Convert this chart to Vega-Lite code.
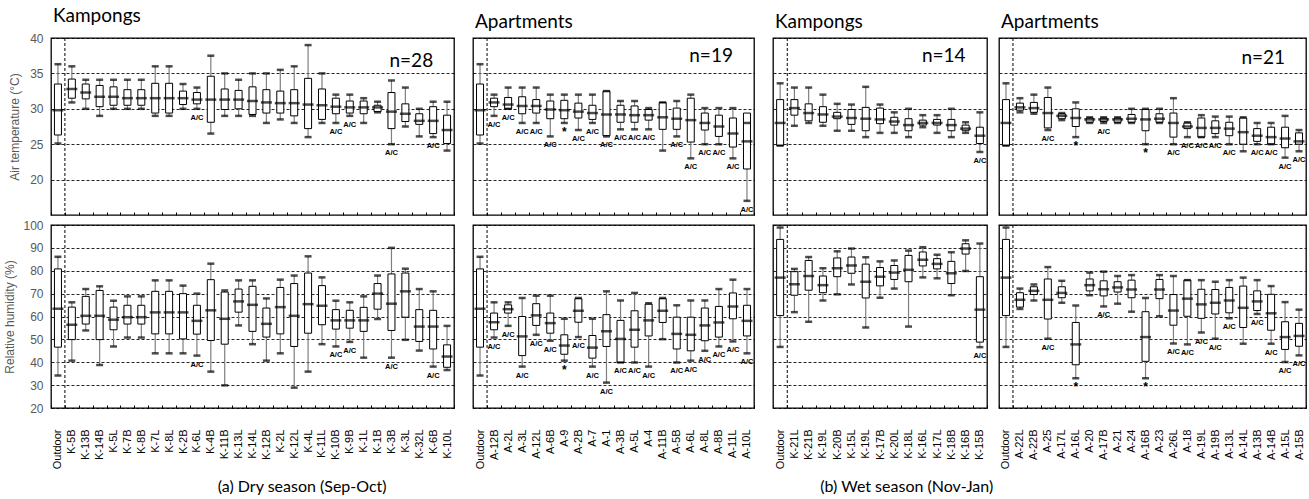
{
  "$schema": "https://vega.github.io/schema/vega-lite/v6.json",
  "padding": {"left": 3, "top": 6, "right": 0, "bottom": 0},
  "config": {
    "font": "Liberation Sans",
    "view": {"stroke": "black", "strokeWidth": 1.3},
    "axis": {
      "gridColor": "black", "gridDash": [3, 2], "gridWidth": 1, "gridOpacity": 0.85,
      "labelFont": "Liberation Sans", "titleFont": "Liberation Sans",
      "labelColor": "#595959", "titleColor": "#595959", "titleFontWeight": "normal",
      "labelFontSize": 12, "titleFontSize": 12
    },
    "title": {"font": "Lato", "fontWeight": "normal", "color": "black"},
    "text": {"font": "Liberation Sans"}
  },
  "datasets": {
    "dryK": [
      {"site": "Outdoor", "tlo": 25.1, "tq1": 26.3, "tmed": 29.8, "tq3": 33.5, "thi": 36.3, "tn": "", "hlo": 34.2, "hq1": 46.6, "hmed": 63.4, "hq3": 80.8, "hhi": 86.1, "hn": ""},
      {"site": "K-5B", "tlo": 30.9, "tq1": 31.5, "tmed": 32.8, "tq3": 34.2, "thi": 36.0, "tn": "", "hlo": 40.7, "hq1": 49.9, "hmed": 56.4, "hq3": 64.1, "hhi": 66.2, "hn": ""},
      {"site": "K-13B", "tlo": 30.0, "tq1": 31.4, "tmed": 32.3, "tq3": 33.5, "thi": 34.1, "tn": "", "hlo": 53.9, "hq1": 56.7, "hmed": 60.3, "hq3": 68.8, "hhi": 72.0, "hn": ""},
      {"site": "K-14B", "tlo": 29.0, "tq1": 30.3, "tmed": 31.7, "tq3": 33.3, "thi": 34.1, "tn": "", "hlo": 38.8, "hq1": 49.9, "hmed": 60.3, "hq3": 71.4, "hhi": 73.2, "hn": ""},
      {"site": "K-5L", "tlo": 30.0, "tq1": 30.5, "tmed": 31.7, "tq3": 33.1, "thi": 34.1, "tn": "", "hlo": 46.9, "hq1": 54.2, "hmed": 58.6, "hq3": 64.1, "hhi": 66.9, "hn": ""},
      {"site": "K-7B", "tlo": 30.0, "tq1": 30.5, "tmed": 31.5, "tq3": 32.7, "thi": 34.1, "tn": "", "hlo": 50.8, "hq1": 56.7, "hmed": 59.7, "hq3": 64.9, "hhi": 68.8, "hn": ""},
      {"site": "K-8B", "tlo": 30.0, "tq1": 30.5, "tmed": 31.5, "tq3": 32.7, "thi": 34.1, "tn": "", "hlo": 50.8, "hq1": 56.7, "hmed": 59.7, "hq3": 64.9, "hhi": 68.8, "hn": ""},
      {"site": "K-7L", "tlo": 29.0, "tq1": 29.4, "tmed": 31.5, "tq3": 33.6, "thi": 36.0, "tn": "", "hlo": 43.9, "hq1": 52.4, "hmed": 61.8, "hq3": 71.0, "hhi": 75.8, "hn": ""},
      {"site": "K-8L", "tlo": 29.0, "tq1": 29.4, "tmed": 31.5, "tq3": 33.6, "thi": 36.0, "tn": "", "hlo": 43.9, "hq1": 52.4, "hmed": 61.8, "hq3": 71.0, "hhi": 75.8, "hn": ""},
      {"site": "K-2B", "tlo": 30.0, "tq1": 30.6, "tmed": 31.5, "tq3": 32.5, "thi": 33.5, "tn": "", "hlo": 43.9, "hq1": 50.2, "hmed": 61.8, "hq3": 70.0, "hhi": 73.5, "hn": ""},
      {"site": "K-6L", "tlo": 30.0, "tq1": 30.7, "tmed": 31.3, "tq3": 32.3, "thi": 33.0, "tn": "A/C", "hlo": 42.9, "hq1": 52.3, "hmed": 58.1, "hq3": 64.9, "hhi": 70.0, "hn": "A/C"},
      {"site": "K-4B", "tlo": 26.5, "tq1": 28.1, "tmed": 31.3, "tq3": 34.6, "thi": 37.5, "tn": "", "hlo": 35.9, "hq1": 49.5, "hmed": 62.7, "hq3": 76.1, "hhi": 83.1, "hn": ""},
      {"site": "K-11B", "tlo": 29.0, "tq1": 29.9, "tmed": 31.3, "tq3": 32.8, "thi": 35.0, "tn": "", "hlo": 29.9, "hq1": 47.9, "hmed": 59.0, "hq3": 70.7, "hhi": 71.4, "hn": ""},
      {"site": "K-13L", "tlo": 29.0, "tq1": 30.0, "tmed": 31.3, "tq3": 32.6, "thi": 34.1, "tn": "", "hlo": 56.1, "hq1": 61.9, "hmed": 66.6, "hq3": 72.0, "hhi": 75.8, "hn": ""},
      {"site": "K-14L", "tlo": 29.0, "tq1": 29.2, "tmed": 31.1, "tq3": 33.1, "thi": 35.0, "tn": "", "hlo": 47.9, "hq1": 53.5, "hmed": 65.1, "hq3": 73.2, "hhi": 75.8, "hn": ""},
      {"site": "K-12B", "tlo": 28.0, "tq1": 29.4, "tmed": 30.9, "tq3": 32.7, "thi": 35.0, "tn": "", "hlo": 40.7, "hq1": 51.0, "hmed": 56.8, "hq3": 63.7, "hhi": 67.9, "hn": ""},
      {"site": "K-2L", "tlo": 28.5, "tq1": 29.4, "tmed": 30.8, "tq3": 32.5, "thi": 35.5, "tn": "", "hlo": 43.9, "hq1": 52.4, "hmed": 64.1, "hq3": 72.7, "hhi": 76.1, "hn": ""},
      {"site": "K-12L", "tlo": 28.0, "tq1": 29.0, "tmed": 30.8, "tq3": 32.7, "thi": 36.0, "tn": "", "hlo": 28.9, "hq1": 46.9, "hmed": 60.3, "hq3": 74.4, "hhi": 77.9, "hn": ""},
      {"site": "K-4L", "tlo": 26.0, "tq1": 27.2, "tmed": 30.6, "tq3": 34.3, "thi": 39.0, "tn": "", "hlo": 35.9, "hq1": 52.7, "hmed": 65.4, "hq3": 79.0, "hhi": 86.3, "hn": ""},
      {"site": "K-11L", "tlo": 28.0, "tq1": 28.5, "tmed": 30.5, "tq3": 32.8, "thi": 35.0, "tn": "", "hlo": 47.9, "hq1": 56.4, "hmed": 64.7, "hq3": 73.5, "hhi": 77.1, "hn": ""},
      {"site": "K-10B", "tlo": 28.0, "tq1": 29.3, "tmed": 30.3, "tq3": 31.5, "thi": 32.0, "tn": "A/C", "hlo": 46.9, "hq1": 54.5, "hmed": 58.3, "hq3": 63.0, "hhi": 66.9, "hn": "A/C"},
      {"site": "K-9B", "tlo": 29.0, "tq1": 29.4, "tmed": 30.2, "tq3": 31.1, "thi": 32.0, "tn": "A/C", "hlo": 48.9, "hq1": 54.9, "hmed": 58.3, "hq3": 62.7, "hhi": 66.2, "hn": "A/C"},
      {"site": "K-1L", "tlo": 28.0, "tq1": 29.3, "tmed": 30.2, "tq3": 31.1, "thi": 31.5, "tn": "", "hlo": 42.0, "hq1": 53.5, "hmed": 58.3, "hq3": 64.0, "hhi": 68.8, "hn": ""},
      {"site": "K-1B", "tlo": 29.5, "tq1": 29.6, "tmed": 30.2, "tq3": 30.5, "thi": 31.0, "tn": "", "hlo": 58.9, "hq1": 63.2, "hmed": 70.0, "hq3": 74.4, "hhi": 77.9, "hn": ""},
      {"site": "K-3B", "tlo": 25.0, "tq1": 27.2, "tmed": 29.6, "tq3": 32.3, "thi": 34.0, "tn": "A/C", "hlo": 42.0, "hq1": 53.9, "hmed": 65.6, "hq3": 78.6, "hhi": 90.0, "hn": "A/C"},
      {"site": "K-3L", "tlo": 27.5, "tq1": 28.2, "tmed": 29.3, "tq3": 30.7, "thi": 33.0, "tn": "", "hlo": 49.8, "hq1": 59.7, "hmed": 71.0, "hq3": 79.0, "hhi": 80.9, "hn": ""},
      {"site": "K-32L", "tlo": 26.1, "tq1": 27.8, "tmed": 28.3, "tq3": 29.3, "thi": 30.0, "tn": "", "hlo": 45.1, "hq1": 49.1, "hmed": 55.6, "hq3": 63.0, "hhi": 72.0, "hn": ""},
      {"site": "K-6B", "tlo": 26.0, "tq1": 26.5, "tmed": 28.3, "tq3": 30.3, "thi": 31.0, "tn": "A/C", "hlo": 38.1, "hq1": 45.8, "hmed": 55.6, "hq3": 62.7, "hhi": 71.0, "hn": "A/C"},
      {"site": "K-10L", "tlo": 24.1, "tq1": 25.1, "tmed": 27.0, "tq3": 29.1, "thi": 31.0, "tn": "", "hlo": 36.6, "hq1": 37.8, "hmed": 42.5, "hq3": 47.6, "hhi": 55.9, "hn": ""}
    ],
    "dryA": [
      {"site": "Outdoor", "tlo": 25.1, "tq1": 26.3, "tmed": 29.8, "tq3": 33.5, "thi": 36.3, "tn": "", "hlo": 34.2, "hq1": 46.6, "hmed": 63.4, "hq3": 80.8, "hhi": 86.1, "hn": ""},
      {"site": "A-12B", "tlo": 29.0, "tq1": 30.3, "tmed": 30.9, "tq3": 31.5, "thi": 32.0, "tn": "A/C", "hlo": 50.8, "hq1": 54.2, "hmed": 57.5, "hq3": 61.5, "hhi": 66.2, "hn": "A/C"},
      {"site": "A-2L", "tlo": 30.0, "tq1": 30.0, "tmed": 30.6, "tq3": 31.6, "thi": 33.0, "tn": "A/C", "hlo": 55.9, "hq1": 61.5, "hmed": 63.2, "hq3": 65.1, "hhi": 66.2, "hn": "A/C"},
      {"site": "A-3L", "tlo": 28.0, "tq1": 29.3, "tmed": 30.4, "tq3": 31.7, "thi": 33.0, "tn": "A/C", "hlo": 38.1, "hq1": 42.9, "hmed": 51.3, "hq3": 60.0, "hhi": 68.1, "hn": "A/C"},
      {"site": "A-12L", "tlo": 28.0, "tq1": 29.4, "tmed": 30.4, "tq3": 31.3, "thi": 33.0, "tn": "A/C", "hlo": 52.0, "hq1": 56.1, "hmed": 60.5, "hq3": 65.6, "hhi": 69.1, "hn": "A/C"},
      {"site": "A-6B", "tlo": 26.1, "tq1": 28.6, "tmed": 29.9, "tq3": 31.1, "thi": 32.0, "tn": "A/C", "hlo": 49.4, "hq1": 52.7, "hmed": 57.1, "hq3": 61.5, "hhi": 69.1, "hn": "A/C"},
      {"site": "A-9", "tlo": 28.0, "tq1": 28.6, "tmed": 29.8, "tq3": 31.2, "thi": 32.0, "tn": "*", "hlo": 40.7, "hq1": 43.5, "hmed": 47.3, "hq3": 52.0, "hhi": 59.0, "hn": "*"},
      {"site": "A-2B", "tlo": 27.0, "tq1": 28.7, "tmed": 29.6, "tq3": 30.8, "thi": 32.0, "tn": "A/C", "hlo": 51.0, "hq1": 57.5, "hmed": 62.5, "hq3": 67.8, "hhi": 68.1, "hn": "A/C"},
      {"site": "A-7", "tlo": 28.0, "tq1": 28.5, "tmed": 29.4, "tq3": 30.5, "thi": 32.0, "tn": "A/C", "hlo": 38.1, "hq1": 41.8, "hmed": 46.4, "hq3": 51.7, "hhi": 59.0, "hn": "A/C"},
      {"site": "A-1", "tlo": 26.1, "tq1": 26.2, "tmed": 29.2, "tq3": 32.5, "thi": 32.5, "tn": "A/C", "hlo": 31.1, "hq1": 46.9, "hmed": 53.5, "hq3": 60.8, "hhi": 71.0, "hn": "A/C"},
      {"site": "A-3B", "tlo": 27.1, "tq1": 28.1, "tmed": 29.2, "tq3": 30.5, "thi": 31.1, "tn": "A/C", "hlo": 39.9, "hq1": 39.9, "hmed": 50.2, "hq3": 58.3, "hhi": 67.0, "hn": "A/C"},
      {"site": "A-5L", "tlo": 27.1, "tq1": 28.1, "tmed": 29.1, "tq3": 30.4, "thi": 31.1, "tn": "A/C", "hlo": 39.9, "hq1": 46.6, "hmed": 54.2, "hq3": 62.5, "hhi": 70.3, "hn": "A/C"},
      {"site": "A-4", "tlo": 27.1, "tq1": 28.4, "tmed": 29.1, "tq3": 29.9, "thi": 30.1, "tn": "A/C", "hlo": 38.1, "hq1": 51.5, "hmed": 58.3, "hq3": 65.4, "hhi": 65.8, "hn": "A/C"},
      {"site": "A-11B", "tlo": 24.1, "tq1": 27.1, "tmed": 28.8, "tq3": 30.9, "thi": 30.9, "tn": "", "hlo": 50.1, "hq1": 57.4, "hmed": 62.5, "hq3": 67.8, "hhi": 68.1, "hn": ""},
      {"site": "A-5B", "tlo": 26.1, "tq1": 27.1, "tmed": 28.6, "tq3": 30.1, "thi": 31.1, "tn": "A/C", "hlo": 39.9, "hq1": 45.8, "hmed": 52.4, "hq3": 59.7, "hhi": 64.9, "hn": "A/C"},
      {"site": "A-6L", "tlo": 23.0, "tq1": 25.3, "tmed": 28.4, "tq3": 31.5, "thi": 32.0, "tn": "A/C", "hlo": 40.7, "hq1": 45.0, "hmed": 52.0, "hq3": 59.7, "hhi": 67.0, "hn": "A/C"},
      {"site": "A-8L", "tlo": 25.0, "tq1": 27.0, "tmed": 28.0, "tq3": 29.4, "thi": 30.1, "tn": "A/C", "hlo": 45.0, "hq1": 49.4, "hmed": 56.1, "hq3": 63.7, "hhi": 67.0, "hn": "A/C"},
      {"site": "A-8B", "tlo": 25.0, "tq1": 26.1, "tmed": 27.5, "tq3": 29.1, "thi": 30.1, "tn": "A/C", "hlo": 46.9, "hq1": 51.0, "hmed": 57.4, "hq3": 64.4, "hhi": 72.0, "hn": "A/C"},
      {"site": "A-11L", "tlo": 23.0, "tq1": 24.6, "tmed": 26.5, "tq3": 28.7, "thi": 30.1, "tn": "A/C", "hlo": 49.1, "hq1": 59.0, "hmed": 64.4, "hq3": 70.3, "hhi": 76.1, "hn": "A/C"},
      {"site": "A-10L", "tlo": 17.0, "tq1": 21.5, "tmed": 25.4, "tq3": 29.4, "thi": 28.0, "tn": "A/C", "hlo": 43.9, "hq1": 51.5, "hmed": 58.1, "hq3": 64.9, "hhi": 72.0, "hn": "A/C"}
    ],
    "wetK": [
      {"site": "Outdoor", "tlo": 24.8, "tq1": 24.8, "tmed": 28.0, "tq3": 31.3, "thi": 33.6, "tn": "", "hlo": 46.7, "hq1": 60.4, "hmed": 77.0, "hq3": 93.7, "hhi": 98.9, "hn": ""},
      {"site": "K-21L", "tlo": 27.6, "tq1": 29.1, "tmed": 30.1, "tq3": 31.3, "thi": 33.0, "tn": "", "hlo": 61.9, "hq1": 69.3, "hmed": 74.1, "hq3": 79.6, "hhi": 80.8, "hn": ""},
      {"site": "K-21B", "tlo": 28.0, "tq1": 28.3, "tmed": 29.4, "tq3": 30.7, "thi": 33.0, "tn": "", "hlo": 57.7, "hq1": 71.5, "hmed": 77.7, "hq3": 84.5, "hhi": 86.0, "hn": ""},
      {"site": "K-19L", "tlo": 27.6, "tq1": 28.1, "tmed": 29.2, "tq3": 30.3, "thi": 32.0, "tn": "", "hlo": 67.0, "hq1": 70.4, "hmed": 73.7, "hq3": 77.7, "hhi": 81.1, "hn": ""},
      {"site": "K-20B", "tlo": 26.9, "tq1": 28.6, "tmed": 28.9, "tq3": 29.5, "thi": 30.7, "tn": "", "hlo": 69.7, "hq1": 77.4, "hmed": 81.1, "hq3": 85.6, "hhi": 88.5, "hn": ""},
      {"site": "K-15L", "tlo": 26.9, "tq1": 27.8, "tmed": 28.7, "tq3": 29.9, "thi": 30.6, "tn": "", "hlo": 74.0, "hq1": 78.9, "hmed": 82.3, "hq3": 86.0, "hhi": 89.7, "hn": ""},
      {"site": "K-19L#2", "tlo": 26.0, "tq1": 26.9, "tmed": 28.6, "tq3": 30.2, "thi": 33.1, "tn": "", "hlo": 55.2, "hq1": 68.1, "hmed": 75.2, "hq3": 82.9, "hhi": 85.9, "hn": ""},
      {"site": "K-17B", "tlo": 26.6, "tq1": 27.9, "tmed": 28.5, "tq3": 30.1, "thi": 30.6, "tn": "", "hlo": 68.2, "hq1": 73.4, "hmed": 77.4, "hq3": 81.4, "hhi": 84.1, "hn": ""},
      {"site": "K-20L", "tlo": 26.6, "tq1": 27.7, "tmed": 28.2, "tq3": 28.8, "thi": 29.5, "tn": "", "hlo": 72.2, "hq1": 76.2, "hmed": 79.2, "hq3": 82.3, "hhi": 84.5, "hn": ""},
      {"site": "K-18L", "tlo": 26.0, "tq1": 26.9, "tmed": 27.7, "tq3": 28.6, "thi": 30.0, "tn": "", "hlo": 55.6, "hq1": 75.2, "hmed": 80.4, "hq3": 86.7, "hhi": 88.8, "hn": ""},
      {"site": "K-16L", "tlo": 27.4, "tq1": 27.7, "tmed": 28.0, "tq3": 28.4, "thi": 29.1, "tn": "", "hlo": 77.1, "hq1": 82.1, "hmed": 84.8, "hq3": 88.2, "hhi": 90.3, "hn": ""},
      {"site": "K-17L", "tlo": 26.6, "tq1": 27.7, "tmed": 28.0, "tq3": 28.5, "thi": 29.1, "tn": "", "hlo": 76.7, "hq1": 80.8, "hmed": 83.0, "hq3": 85.3, "hhi": 87.0, "hn": ""},
      {"site": "K-18B", "tlo": 26.0, "tq1": 26.9, "tmed": 27.7, "tq3": 28.5, "thi": 30.0, "tn": "", "hlo": 69.3, "hq1": 74.4, "hmed": 78.9, "hq3": 84.1, "hhi": 88.1, "hn": ""},
      {"site": "K-16B", "tlo": 26.6, "tq1": 26.9, "tmed": 27.2, "tq3": 27.7, "thi": 28.1, "tn": "", "hlo": 79.9, "hq1": 87.3, "hmed": 89.7, "hq3": 91.8, "hhi": 93.3, "hn": ""},
      {"site": "K-15B", "tlo": 23.9, "tq1": 25.1, "tmed": 26.2, "tq3": 27.4, "thi": 29.5, "tn": "A/C", "hlo": 46.6, "hq1": 48.8, "hmed": 63.0, "hq3": 77.4, "hhi": 91.9, "hn": "A/C"}
    ],
    "wetA": [
      {"site": "Outdoor", "tlo": 24.8, "tq1": 24.8, "tmed": 28.0, "tq3": 31.3, "thi": 33.6, "tn": "", "hlo": 46.7, "hq1": 60.4, "hmed": 77.0, "hq3": 93.7, "hhi": 98.9, "hn": ""},
      {"site": "A-22L", "tlo": 29.5, "tq1": 29.8, "tmed": 30.2, "tq3": 30.8, "thi": 31.5, "tn": "", "hlo": 63.3, "hq1": 64.1, "hmed": 67.3, "hq3": 70.4, "hhi": 72.2, "hn": ""},
      {"site": "A-22B", "tlo": 29.3, "tq1": 29.5, "tmed": 30.1, "tq3": 30.9, "thi": 32.0, "tn": "", "hlo": 67.0, "hq1": 69.6, "hmed": 71.2, "hq3": 73.0, "hhi": 74.0, "hn": ""},
      {"site": "A-25", "tlo": 27.0, "tq1": 27.3, "tmed": 29.4, "tq3": 31.6, "thi": 33.0, "tn": "A/C", "hlo": 50.3, "hq1": 58.9, "hmed": 67.3, "hq3": 76.4, "hhi": 81.6, "hn": "A/C"},
      {"site": "A-17L", "tlo": 28.4, "tq1": 28.6, "tmed": 29.0, "tq3": 29.3, "thi": 29.4, "tn": "", "hlo": 66.0, "hq1": 68.2, "hmed": 70.3, "hq3": 73.0, "hhi": 75.6, "hn": ""},
      {"site": "A-16L", "tlo": 26.0, "tq1": 27.5, "tmed": 28.7, "tq3": 30.0, "thi": 30.9, "tn": "*", "hlo": 33.0, "hq1": 38.9, "hmed": 47.8, "hq3": 57.4, "hhi": 64.8, "hn": "*"},
      {"site": "A-20", "tlo": 28.0, "tq1": 28.1, "tmed": 28.5, "tq3": 28.7, "thi": 28.8, "tn": "", "hlo": 69.3, "hq1": 71.2, "hmed": 73.7, "hq3": 76.4, "hhi": 79.2, "hn": ""},
      {"site": "A-17B", "tlo": 28.0, "tq1": 28.2, "tmed": 28.5, "tq3": 28.7, "thi": 28.8, "tn": "A/C", "hlo": 64.4, "hq1": 69.0, "hmed": 71.9, "hq3": 75.6, "hhi": 79.6, "hn": "A/C"},
      {"site": "A-21", "tlo": 28.0, "tq1": 28.1, "tmed": 28.5, "tq3": 28.7, "thi": 28.8, "tn": "", "hlo": 65.6, "hq1": 70.7, "hmed": 72.7, "hq3": 75.2, "hhi": 77.7, "hn": ""},
      {"site": "A-24", "tlo": 28.0, "tq1": 28.1, "tmed": 28.6, "tq3": 29.2, "thi": 30.0, "tn": "", "hlo": 62.1, "hq1": 68.2, "hmed": 71.8, "hq3": 75.9, "hhi": 78.1, "hn": ""},
      {"site": "A-16B", "tlo": 25.0, "tq1": 26.9, "tmed": 28.5, "tq3": 29.9, "thi": 30.0, "tn": "*", "hlo": 33.0, "hq1": 40.4, "hmed": 51.0, "hq3": 62.1, "hhi": 68.1, "hn": "*"},
      {"site": "A-23", "tlo": 28.0, "tq1": 28.1, "tmed": 28.6, "tq3": 29.3, "thi": 30.0, "tn": "", "hlo": 60.1, "hq1": 67.8, "hmed": 71.8, "hq3": 76.2, "hhi": 78.1, "hn": ""},
      {"site": "A-26L", "tlo": 25.0, "tq1": 26.0, "tmed": 28.0, "tq3": 29.4, "thi": 31.5, "tn": "A/C", "hlo": 48.2, "hq1": 56.2, "hmed": 62.6, "hq3": 69.6, "hhi": 77.7, "hn": "A/C"},
      {"site": "A-18", "tlo": 26.0, "tq1": 27.2, "tmed": 27.5, "tq3": 28.0, "thi": 28.1, "tn": "A/C", "hlo": 47.8, "hq1": 60.1, "hmed": 67.8, "hq3": 75.9, "hhi": 75.9, "hn": "A/C"},
      {"site": "A-19L", "tlo": 26.0, "tq1": 26.0, "tmed": 27.3, "tq3": 28.7, "thi": 29.1, "tn": "A/C", "hlo": 53.0, "hq1": 59.2, "hmed": 65.3, "hq3": 71.9, "hhi": 75.9, "hn": "A/C"},
      {"site": "A-19B", "tlo": 26.0, "tq1": 26.5, "tmed": 27.3, "tq3": 28.3, "thi": 28.9, "tn": "A/C", "hlo": 50.3, "hq1": 61.1, "hmed": 66.0, "hq3": 71.8, "hhi": 75.2, "hn": "A/C"},
      {"site": "A-13L", "tlo": 25.0, "tq1": 26.2, "tmed": 27.2, "tq3": 28.1, "thi": 28.9, "tn": "A/C", "hlo": 59.2, "hq1": 61.6, "hmed": 67.0, "hq3": 72.7, "hhi": 75.9, "hn": "A/C"},
      {"site": "A-14L", "tlo": 24.0, "tq1": 25.0, "tmed": 26.7, "tq3": 28.7, "thi": 28.8, "tn": "", "hlo": 48.1, "hq1": 55.2, "hmed": 63.8, "hq3": 73.3, "hhi": 77.0, "hn": ""},
      {"site": "A-13B", "tlo": 25.0, "tq1": 25.4, "tmed": 26.2, "tq3": 27.2, "thi": 28.0, "tn": "A/C", "hlo": 61.1, "hq1": 62.6, "hmed": 66.6, "hq3": 71.2, "hhi": 75.9, "hn": "A/C"},
      {"site": "A-14B", "tlo": 25.0, "tq1": 25.0, "tmed": 26.0, "tq3": 27.4, "thi": 28.0, "tn": "A/C", "hlo": 48.1, "hq1": 54.0, "hmed": 61.4, "hq3": 69.7, "hhi": 73.3, "hn": "A/C"},
      {"site": "A-15L", "tlo": 23.1, "tq1": 24.5, "tmed": 25.8, "tq3": 27.4, "thi": 29.0, "tn": "A/C", "hlo": 40.1, "hq1": 45.6, "hmed": 51.0, "hq3": 57.7, "hhi": 66.3, "hn": "A/C"},
      {"site": "A-15B", "tlo": 24.0, "tq1": 25.0, "tmed": 25.4, "tq3": 26.6, "thi": 27.0, "tn": "A/C", "hlo": 43.0, "hq1": 47.0, "hmed": 51.5, "hq3": 57.0, "hhi": 63.0, "hn": "A/C"}
    ]
  },
  "spacing": 10,
  "hconcat": [
    {
      "title": {"text": "(a) Dry season (Sep-Oct)", "orient": "bottom", "anchor": "middle", "fontSize": 16, "offset": 10, "dx": -77},
      "spacing": 10,
      "hconcat": [
        {
          "spacing": 10, "bounds": "flush",
          "vconcat": [
            {
              "width": 403, "height": 177,
              "data": {"name": "dryK"},
              "title": {"text": "Kampongs", "anchor": "start", "frame": "group", "fontSize": 19, "offset": 6, "dx": 2},
              "encoding": {"x": {"field": "site", "type": "nominal", "sort": null, "scale": {"paddingInner": 0, "paddingOuter": 0},
                "axis": {"labels": false, "title": null, "domain": false, "ticks": true, "tickSize": -3, "tickBand": "extent", "tickColor": "black"}}},
              "layer": [
                {"mark": {"type": "rule", "color": "#7f7f7f", "strokeWidth": 1.2},
                 "encoding": {"y": {"field": "tlo", "type": "quantitative", "scale": {"domain": [15, 40], "nice": false, "zero": false},
                   "axis": {"values": [20, 25, 30, 35, 40], "tickCount": 10, "labelOverlap": false, "title": "Air temperature (°C)", "ticks": false, "domain": false, "labelPadding": 8, "titlePadding": 8}},
                   "y2": {"field": "thi"}}},
                {"mark": {"type": "bar", "size": 7, "fill": "white", "stroke": "black", "strokeWidth": 1}, "encoding": {"y": {"field": "tq1", "type": "quantitative"}, "y2": {"field": "tq3"}}},
                {"mark": {"type": "tick", "size": 7, "thickness": 2.5, "color": "black"}, "encoding": {"y": {"field": "thi", "type": "quantitative"}}},
                {"mark": {"type": "tick", "size": 7, "thickness": 2.5, "color": "black"}, "encoding": {"y": {"field": "tlo", "type": "quantitative"}}},
                {"mark": {"type": "tick", "size": 11, "thickness": 2.5, "color": "black"}, "encoding": {"y": {"field": "tmed", "type": "quantitative"}}},
                {"mark": {"type": "text", "baseline": "middle", "dy": 9, "fontWeight": "bold"}, "encoding": {"y": {"field": "tlo", "type": "quantitative"}, "text": {"field": "tn"}, "size": {"condition": {"test": "datum.tn === '*'", "value": 12}, "value": 7.5}}},
                {"transform": [{"filter": "datum.site === 'Outdoor'"}], "mark": {"type": "rule", "color": "black", "strokeDash": [3, 2]}, "encoding": {"x": {"field": "site", "type": "nominal", "bandPosition": 1}}},
                {"transform": [{"filter": "datum.site === 'K-6B'"}], "mark": {"type": "text", "align": "right", "baseline": "middle", "font": "Lato", "fontSize": 19}, "encoding": {"y": {"datum": 36.7}, "text": {"value": "n=28"}}}
              ]
            },
            {
              "width": 403, "height": 183,
              "data": {"name": "dryK"},
              "encoding": {"x": {"field": "site", "type": "nominal", "sort": null, "scale": {"paddingInner": 0, "paddingOuter": 0},
                "axis": {"labelAngle": -90, "labelColor": "black", "labelFontSize": 11, "labelPadding": 24, "labelOverlap": false, "labelExpr": "split(datum.label, '#')[0]", "title": null, "domain": false, "ticks": true, "tickSize": -3, "tickBand": "extent", "tickColor": "black"}}},
              "layer": [
                {"mark": {"type": "rule", "color": "#7f7f7f", "strokeWidth": 1.2},
                 "encoding": {"y": {"field": "hlo", "type": "quantitative", "scale": {"domain": [20, 100], "nice": false, "zero": false},
                   "axis": {"values": [20, 30, 40, 50, 60, 70, 80, 90, 100], "tickCount": 12, "labelOverlap": false, "title": "Relative humidity (%)", "ticks": false, "domain": false, "labelPadding": 8, "titlePadding": 6}},
                   "y2": {"field": "hhi"}}},
                {"mark": {"type": "bar", "size": 7, "fill": "white", "stroke": "black", "strokeWidth": 1}, "encoding": {"y": {"field": "hq1", "type": "quantitative"}, "y2": {"field": "hq3"}}},
                {"mark": {"type": "tick", "size": 7, "thickness": 2.5, "color": "black"}, "encoding": {"y": {"field": "hhi", "type": "quantitative"}}},
                {"mark": {"type": "tick", "size": 7, "thickness": 2.5, "color": "black"}, "encoding": {"y": {"field": "hlo", "type": "quantitative"}}},
                {"mark": {"type": "tick", "size": 11, "thickness": 2.5, "color": "black"}, "encoding": {"y": {"field": "hmed", "type": "quantitative"}}},
                {"mark": {"type": "text", "baseline": "middle", "dy": 9, "fontWeight": "bold"}, "encoding": {"y": {"field": "hlo", "type": "quantitative"}, "text": {"field": "hn"}, "size": {"condition": {"test": "datum.hn === '*'", "value": 12}, "value": 7.5}}},
                {"transform": [{"filter": "datum.site === 'Outdoor'"}], "mark": {"type": "rule", "color": "black", "strokeDash": [3, 2]}, "encoding": {"x": {"field": "site", "type": "nominal", "bandPosition": 1}}}
              ]
            }
          ]
        },
        {
          "spacing": 10, "bounds": "flush",
          "vconcat": [
            {
              "width": 281, "height": 177,
              "data": {"name": "dryA"},
              "title": {"text": "Apartments", "anchor": "start", "frame": "group", "fontSize": 19, "offset": 6, "dx": 2},
              "encoding": {"x": {"field": "site", "type": "nominal", "sort": null, "scale": {"paddingInner": 0, "paddingOuter": 0},
                "axis": {"labels": false, "title": null, "domain": false, "ticks": true, "tickSize": -3, "tickBand": "extent", "tickColor": "black"}}},
              "layer": [
                {"mark": {"type": "rule", "color": "#7f7f7f", "strokeWidth": 1.2},
                 "encoding": {"y": {"field": "tlo", "type": "quantitative", "scale": {"domain": [15, 40], "nice": false, "zero": false},
                   "axis": {"values": [20, 25, 30, 35, 40], "tickCount": 10, "title": null, "labels": false, "ticks": false, "domain": false}},
                   "y2": {"field": "thi"}}},
                {"mark": {"type": "bar", "size": 7, "fill": "white", "stroke": "black", "strokeWidth": 1}, "encoding": {"y": {"field": "tq1", "type": "quantitative"}, "y2": {"field": "tq3"}}},
                {"mark": {"type": "tick", "size": 7, "thickness": 2.5, "color": "black"}, "encoding": {"y": {"field": "thi", "type": "quantitative"}}},
                {"mark": {"type": "tick", "size": 7, "thickness": 2.5, "color": "black"}, "encoding": {"y": {"field": "tlo", "type": "quantitative"}}},
                {"mark": {"type": "tick", "size": 11, "thickness": 2.5, "color": "black"}, "encoding": {"y": {"field": "tmed", "type": "quantitative"}}},
                {"mark": {"type": "text", "baseline": "middle", "dy": 9, "fontWeight": "bold"}, "encoding": {"y": {"field": "tlo", "type": "quantitative"}, "text": {"field": "tn"}, "size": {"condition": {"test": "datum.tn === '*'", "value": 12}, "value": 7.5}}},
                {"transform": [{"filter": "datum.site === 'Outdoor'"}], "mark": {"type": "rule", "color": "black", "strokeDash": [3, 2]}, "encoding": {"x": {"field": "site", "type": "nominal", "bandPosition": 1}}},
                {"transform": [{"filter": "datum.site === 'A-11L'"}], "mark": {"type": "text", "align": "right", "baseline": "middle", "font": "Lato", "fontSize": 19}, "encoding": {"y": {"datum": 37.4}, "text": {"value": "n=19"}}}
              ]
            },
            {
              "width": 281, "height": 183,
              "data": {"name": "dryA"},
              "encoding": {"x": {"field": "site", "type": "nominal", "sort": null, "scale": {"paddingInner": 0, "paddingOuter": 0},
                "axis": {"labelAngle": -90, "labelColor": "black", "labelFontSize": 11, "labelPadding": 24, "labelOverlap": false, "labelExpr": "split(datum.label, '#')[0]", "title": null, "domain": false, "ticks": true, "tickSize": -3, "tickBand": "extent", "tickColor": "black"}}},
              "layer": [
                {"mark": {"type": "rule", "color": "#7f7f7f", "strokeWidth": 1.2},
                 "encoding": {"y": {"field": "hlo", "type": "quantitative", "scale": {"domain": [20, 100], "nice": false, "zero": false},
                   "axis": {"values": [20, 30, 40, 50, 60, 70, 80, 90, 100], "tickCount": 12, "title": null, "labels": false, "ticks": false, "domain": false}},
                   "y2": {"field": "hhi"}}},
                {"mark": {"type": "bar", "size": 7, "fill": "white", "stroke": "black", "strokeWidth": 1}, "encoding": {"y": {"field": "hq1", "type": "quantitative"}, "y2": {"field": "hq3"}}},
                {"mark": {"type": "tick", "size": 7, "thickness": 2.5, "color": "black"}, "encoding": {"y": {"field": "hhi", "type": "quantitative"}}},
                {"mark": {"type": "tick", "size": 7, "thickness": 2.5, "color": "black"}, "encoding": {"y": {"field": "hlo", "type": "quantitative"}}},
                {"mark": {"type": "tick", "size": 11, "thickness": 2.5, "color": "black"}, "encoding": {"y": {"field": "hmed", "type": "quantitative"}}},
                {"mark": {"type": "text", "baseline": "middle", "dy": 9, "fontWeight": "bold"}, "encoding": {"y": {"field": "hlo", "type": "quantitative"}, "text": {"field": "hn"}, "size": {"condition": {"test": "datum.hn === '*'", "value": 12}, "value": 7.5}}},
                {"transform": [{"filter": "datum.site === 'Outdoor'"}], "mark": {"type": "rule", "color": "black", "strokeDash": [3, 2]}, "encoding": {"x": {"field": "site", "type": "nominal", "bandPosition": 1}}}
              ]
            }
          ]
        }
      ]
    },
    {
      "title": {"text": "(b) Wet season (Nov-Jan)", "orient": "bottom", "anchor": "middle", "fontSize": 16, "offset": 10, "dx": -130},
      "spacing": 3,
      "hconcat": [
        {
          "spacing": 10, "bounds": "flush",
          "vconcat": [
            {
              "width": 214, "height": 177,
              "data": {"name": "wetK"},
              "title": {"text": "Kampongs", "anchor": "start", "frame": "group", "fontSize": 19, "offset": 6, "dx": 2},
              "encoding": {"x": {"field": "site", "type": "nominal", "sort": null, "scale": {"paddingInner": 0, "paddingOuter": 0},
                "axis": {"labels": false, "title": null, "domain": false, "ticks": true, "tickSize": -3, "tickBand": "extent", "tickColor": "black"}}},
              "layer": [
                {"mark": {"type": "rule", "color": "#7f7f7f", "strokeWidth": 1.2},
                 "encoding": {"y": {"field": "tlo", "type": "quantitative", "scale": {"domain": [15, 40], "nice": false, "zero": false},
                   "axis": {"values": [20, 25, 30, 35, 40], "tickCount": 10, "title": null, "labels": false, "ticks": false, "domain": false}},
                   "y2": {"field": "thi"}}},
                {"mark": {"type": "bar", "size": 7, "fill": "white", "stroke": "black", "strokeWidth": 1}, "encoding": {"y": {"field": "tq1", "type": "quantitative"}, "y2": {"field": "tq3"}}},
                {"mark": {"type": "tick", "size": 7, "thickness": 2.5, "color": "black"}, "encoding": {"y": {"field": "thi", "type": "quantitative"}}},
                {"mark": {"type": "tick", "size": 7, "thickness": 2.5, "color": "black"}, "encoding": {"y": {"field": "tlo", "type": "quantitative"}}},
                {"mark": {"type": "tick", "size": 11, "thickness": 2.5, "color": "black"}, "encoding": {"y": {"field": "tmed", "type": "quantitative"}}},
                {"mark": {"type": "text", "baseline": "middle", "dy": 9, "fontWeight": "bold"}, "encoding": {"y": {"field": "tlo", "type": "quantitative"}, "text": {"field": "tn"}, "size": {"condition": {"test": "datum.tn === '*'", "value": 12}, "value": 7.5}}},
                {"transform": [{"filter": "datum.site === 'Outdoor'"}], "mark": {"type": "rule", "color": "black", "strokeDash": [3, 2]}, "encoding": {"x": {"field": "site", "type": "nominal", "bandPosition": 1}}},
                {"transform": [{"filter": "datum.site === 'K-16B'"}], "mark": {"type": "text", "align": "right", "baseline": "middle", "font": "Lato", "fontSize": 19}, "encoding": {"y": {"datum": 37.4}, "text": {"value": "n=14"}}}
              ]
            },
            {
              "width": 214, "height": 183,
              "data": {"name": "wetK"},
              "encoding": {"x": {"field": "site", "type": "nominal", "sort": null, "scale": {"paddingInner": 0, "paddingOuter": 0},
                "axis": {"labelAngle": -90, "labelColor": "black", "labelFontSize": 11, "labelPadding": 24, "labelOverlap": false, "labelExpr": "split(datum.label, '#')[0]", "title": null, "domain": false, "ticks": true, "tickSize": -3, "tickBand": "extent", "tickColor": "black"}}},
              "layer": [
                {"mark": {"type": "rule", "color": "#7f7f7f", "strokeWidth": 1.2},
                 "encoding": {"y": {"field": "hlo", "type": "quantitative", "scale": {"domain": [20, 100], "nice": false, "zero": false},
                   "axis": {"values": [20, 30, 40, 50, 60, 70, 80, 90, 100], "tickCount": 12, "title": null, "labels": false, "ticks": false, "domain": false}},
                   "y2": {"field": "hhi"}}},
                {"mark": {"type": "bar", "size": 7, "fill": "white", "stroke": "black", "strokeWidth": 1}, "encoding": {"y": {"field": "hq1", "type": "quantitative"}, "y2": {"field": "hq3"}}},
                {"mark": {"type": "tick", "size": 7, "thickness": 2.5, "color": "black"}, "encoding": {"y": {"field": "hhi", "type": "quantitative"}}},
                {"mark": {"type": "tick", "size": 7, "thickness": 2.5, "color": "black"}, "encoding": {"y": {"field": "hlo", "type": "quantitative"}}},
                {"mark": {"type": "tick", "size": 11, "thickness": 2.5, "color": "black"}, "encoding": {"y": {"field": "hmed", "type": "quantitative"}}},
                {"mark": {"type": "text", "baseline": "middle", "dy": 9, "fontWeight": "bold"}, "encoding": {"y": {"field": "hlo", "type": "quantitative"}, "text": {"field": "hn"}, "size": {"condition": {"test": "datum.hn === '*'", "value": 12}, "value": 7.5}}},
                {"transform": [{"filter": "datum.site === 'Outdoor'"}], "mark": {"type": "rule", "color": "black", "strokeDash": [3, 2]}, "encoding": {"x": {"field": "site", "type": "nominal", "bandPosition": 1}}}
              ]
            }
          ]
        },
        {
          "spacing": 10, "bounds": "flush",
          "vconcat": [
            {
              "width": 307, "height": 177,
              "data": {"name": "wetA"},
              "title": {"text": "Apartments", "anchor": "start", "frame": "group", "fontSize": 19, "offset": 6, "dx": 2},
              "encoding": {"x": {"field": "site", "type": "nominal", "sort": null, "scale": {"paddingInner": 0, "paddingOuter": 0},
                "axis": {"labels": false, "title": null, "domain": false, "ticks": true, "tickSize": -3, "tickBand": "extent", "tickColor": "black"}}},
              "layer": [
                {"mark": {"type": "rule", "color": "#7f7f7f", "strokeWidth": 1.2},
                 "encoding": {"y": {"field": "tlo", "type": "quantitative", "scale": {"domain": [15, 40], "nice": false, "zero": false},
                   "axis": {"values": [20, 25, 30, 35, 40], "tickCount": 10, "title": null, "labels": false, "ticks": false, "domain": false}},
                   "y2": {"field": "thi"}}},
                {"mark": {"type": "bar", "size": 7, "fill": "white", "stroke": "black", "strokeWidth": 1}, "encoding": {"y": {"field": "tq1", "type": "quantitative"}, "y2": {"field": "tq3"}}},
                {"mark": {"type": "tick", "size": 7, "thickness": 2.5, "color": "black"}, "encoding": {"y": {"field": "thi", "type": "quantitative"}}},
                {"mark": {"type": "tick", "size": 7, "thickness": 2.5, "color": "black"}, "encoding": {"y": {"field": "tlo", "type": "quantitative"}}},
                {"mark": {"type": "tick", "size": 11, "thickness": 2.5, "color": "black"}, "encoding": {"y": {"field": "tmed", "type": "quantitative"}}},
                {"mark": {"type": "text", "baseline": "middle", "dy": 9, "fontWeight": "bold"}, "encoding": {"y": {"field": "tlo", "type": "quantitative"}, "text": {"field": "tn"}, "size": {"condition": {"test": "datum.tn === '*'", "value": 12}, "value": 7.5}}},
                {"transform": [{"filter": "datum.site === 'Outdoor'"}], "mark": {"type": "rule", "color": "black", "strokeDash": [3, 2]}, "encoding": {"x": {"field": "site", "type": "nominal", "bandPosition": 1}}},
                {"transform": [{"filter": "datum.site === 'A-15L'"}], "mark": {"type": "text", "align": "right", "baseline": "middle", "font": "Lato", "fontSize": 19}, "encoding": {"y": {"datum": 37.2}, "text": {"value": "n=21"}}}
              ]
            },
            {
              "width": 307, "height": 183,
              "data": {"name": "wetA"},
              "encoding": {"x": {"field": "site", "type": "nominal", "sort": null, "scale": {"paddingInner": 0, "paddingOuter": 0},
                "axis": {"labelAngle": -90, "labelColor": "black", "labelFontSize": 11, "labelPadding": 24, "labelOverlap": false, "labelExpr": "split(datum.label, '#')[0]", "title": null, "domain": false, "ticks": true, "tickSize": -3, "tickBand": "extent", "tickColor": "black"}}},
              "layer": [
                {"mark": {"type": "rule", "color": "#7f7f7f", "strokeWidth": 1.2},
                 "encoding": {"y": {"field": "hlo", "type": "quantitative", "scale": {"domain": [20, 100], "nice": false, "zero": false},
                   "axis": {"values": [20, 30, 40, 50, 60, 70, 80, 90, 100], "tickCount": 12, "title": null, "labels": false, "ticks": false, "domain": false}},
                   "y2": {"field": "hhi"}}},
                {"mark": {"type": "bar", "size": 7, "fill": "white", "stroke": "black", "strokeWidth": 1}, "encoding": {"y": {"field": "hq1", "type": "quantitative"}, "y2": {"field": "hq3"}}},
                {"mark": {"type": "tick", "size": 7, "thickness": 2.5, "color": "black"}, "encoding": {"y": {"field": "hhi", "type": "quantitative"}}},
                {"mark": {"type": "tick", "size": 7, "thickness": 2.5, "color": "black"}, "encoding": {"y": {"field": "hlo", "type": "quantitative"}}},
                {"mark": {"type": "tick", "size": 11, "thickness": 2.5, "color": "black"}, "encoding": {"y": {"field": "hmed", "type": "quantitative"}}},
                {"mark": {"type": "text", "baseline": "middle", "dy": 9, "fontWeight": "bold"}, "encoding": {"y": {"field": "hlo", "type": "quantitative"}, "text": {"field": "hn"}, "size": {"condition": {"test": "datum.hn === '*'", "value": 12}, "value": 7.5}}},
                {"transform": [{"filter": "datum.site === 'Outdoor'"}], "mark": {"type": "rule", "color": "black", "strokeDash": [3, 2]}, "encoding": {"x": {"field": "site", "type": "nominal", "bandPosition": 1}}}
              ]
            }
          ]
        }
      ]
    }
  ]
}
